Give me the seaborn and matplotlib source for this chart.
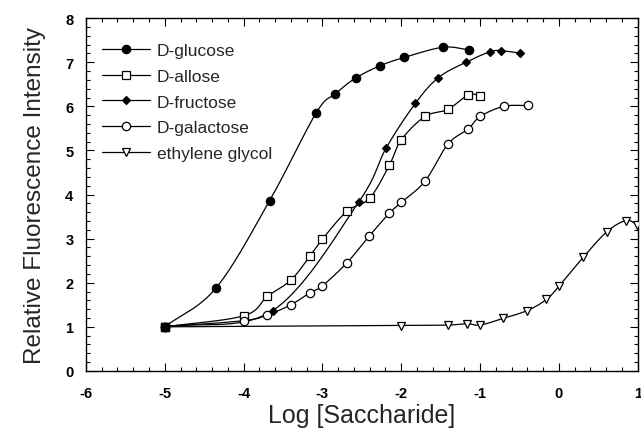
import numpy as np
import pandas as pd
import matplotlib
matplotlib.use('Agg')
import matplotlib.pyplot as plt
from matplotlib.lines import Line2D
from matplotlib.ticker import MultipleLocator
import seaborn as sns

# Data (log concentration vs relative intensity)
glucose_x = [-5, -4.35, -3.67, -3.08, -2.84, -2.58, -2.27, -1.96, -1.47, -1.14]
glucose_y = [1.0, 1.88, 3.86, 5.85, 6.28, 6.64, 6.92, 7.11, 7.34, 7.28]

allose_x = [-5, -4.0, -3.70, -3.40, -3.16, -3.0, -2.69, -2.40, -2.15, -2.0, -1.70, -1.41, -1.15, -1.0]
allose_y = [1.0, 1.25, 1.69, 2.06, 2.60, 2.99, 3.62, 3.92, 4.67, 5.24, 5.77, 5.93, 6.26, 6.24]

fructose_x = [-5, -3.63, -2.54, -2.19, -1.82, -1.53, -1.18, -0.87, -0.73, -0.50]
fructose_y = [1.0, 1.37, 3.83, 5.06, 6.07, 6.65, 7.00, 7.24, 7.26, 7.21]

galactose_x = [-5, -4.0, -3.70, -3.40, -3.16, -3.0, -2.69, -2.41, -2.15, -2.0, -1.70, -1.41, -1.15, -1.0, -0.70, -0.39]
galactose_y = [1.0, 1.14, 1.27, 1.50, 1.77, 1.93, 2.45, 3.05, 3.58, 3.82, 4.30, 5.14, 5.49, 5.77, 6.00, 6.02]

glycol_x = [-5, -2.0, -1.41, -1.16, -1.0, -0.71, -0.40, -0.16, 0.0, 0.31, 0.61, 0.85, 0.99]
glycol_y = [1.0, 1.03, 1.04, 1.07, 1.04, 1.19, 1.37, 1.62, 1.92, 2.58, 3.16, 3.41, 3.32]

series = [
    ('D-glucose', glucose_x, glucose_y, 'o', 'black', 6.0),
    ('D-allose', allose_x, allose_y, 's', 'white', 5.5),
    ('D-fructose', fructose_x, fructose_y, 'D', 'black', 4.0),
    ('D-galactose', galactose_x, galactose_y, 'o', 'white', 6.0),
    ('ethylene glycol', glycol_x, glycol_y, 'v', 'white', 6.0),
]


def smooth(x, y, n=20):
    # Catmull-Rom curve through the points, only for drawing the fit line
    x = np.asarray(x, float)
    y = np.asarray(y, float)
    px = np.concatenate([[2 * x[0] - x[1]], x, [2 * x[-1] - x[-2]]])
    py = np.concatenate([[2 * y[0] - y[1]], y, [2 * y[-1] - y[-2]]])
    xs, ys = [], []
    t = np.linspace(0, 1, n, endpoint=False)
    for i in range(1, len(px) - 2):
        for p, out in ((px, xs), (py, ys)):
            p0, p1, p2, p3 = p[i - 1], p[i], p[i + 1], p[i + 2]
            out.append(0.5 * (2 * p1 + (-p0 + p2) * t
                              + (2 * p0 - 5 * p1 + 4 * p2 - p3) * t ** 2
                              + (-p0 + 3 * p1 - 3 * p2 + p3) * t ** 3))
    xs.append([x[-1]])
    ys.append([y[-1]])
    return np.concatenate(xs), np.concatenate(ys)


sns.set_style('ticks')
plt.rcParams['font.family'] = ['Liberation Sans', 'DejaVu Sans']
plt.rcParams['axes.unicode_minus'] = False

fig = plt.figure(figsize=(6.41, 4.35), dpi=100)
ax = fig.add_axes([0.134, 0.145, 0.861, 0.811])

handles = []
for name, xs, ys, mk, fc, ms in series:
    sx, sy = smooth(xs, ys)
    df = pd.DataFrame({'x': sx, 'y': sy})
    sns.lineplot(data=df, x='x', y='y', color='black', lw=0.9, sort=False,
                 estimator=None, ax=ax)
    ax.plot(xs, ys, ls='none', marker=mk, ms=ms, mfc=fc, mec='black',
            mew=0.9, zorder=3)
    handles.append(Line2D([], [], color='black', lw=0.9, marker=mk, ms=ms,
                          mfc=fc, mec='black', mew=0.9, label=name))

# shared start point drawn as filled square
ax.plot([-5], [1], ls='none', marker='s', ms=6, color='black', zorder=4)

ax.set_xlim(-6, 1)
ax.set_ylim(0, 8)
ax.xaxis.set_major_locator(MultipleLocator(1))
ax.xaxis.set_minor_locator(MultipleLocator(0.2))
ax.yaxis.set_major_locator(MultipleLocator(1))
ax.yaxis.set_minor_locator(MultipleLocator(0.2))
ax.tick_params(which='both', direction='in', top=True, right=True,
               width=0.8, colors='black')
ax.tick_params(which='major', length=6, labelsize=10.5, pad=9)
ax.tick_params(axis='x', which='major', pad=11)
ax.tick_params(which='minor', length=3)
for lbl in ax.get_xticklabels() + ax.get_yticklabels():
    lbl.set_fontweight('bold')
for s in ax.spines.values():
    s.set_linewidth(1.0)
    s.set_color('black')

ax.set_xlabel('Log [Saccharide]', fontsize=18, labelpad=2)
ax.set_ylabel('Relative Fluorescence Intensity', fontsize=17.5, labelpad=14)

ax.legend(handles=handles, loc='upper left', frameon=False, fontsize=12.5,
          handlelength=2.8, handletextpad=0.4, labelspacing=0.62,
          bbox_to_anchor=(0.0, 0.975))

plt.savefig('out.png', dpi=100)
